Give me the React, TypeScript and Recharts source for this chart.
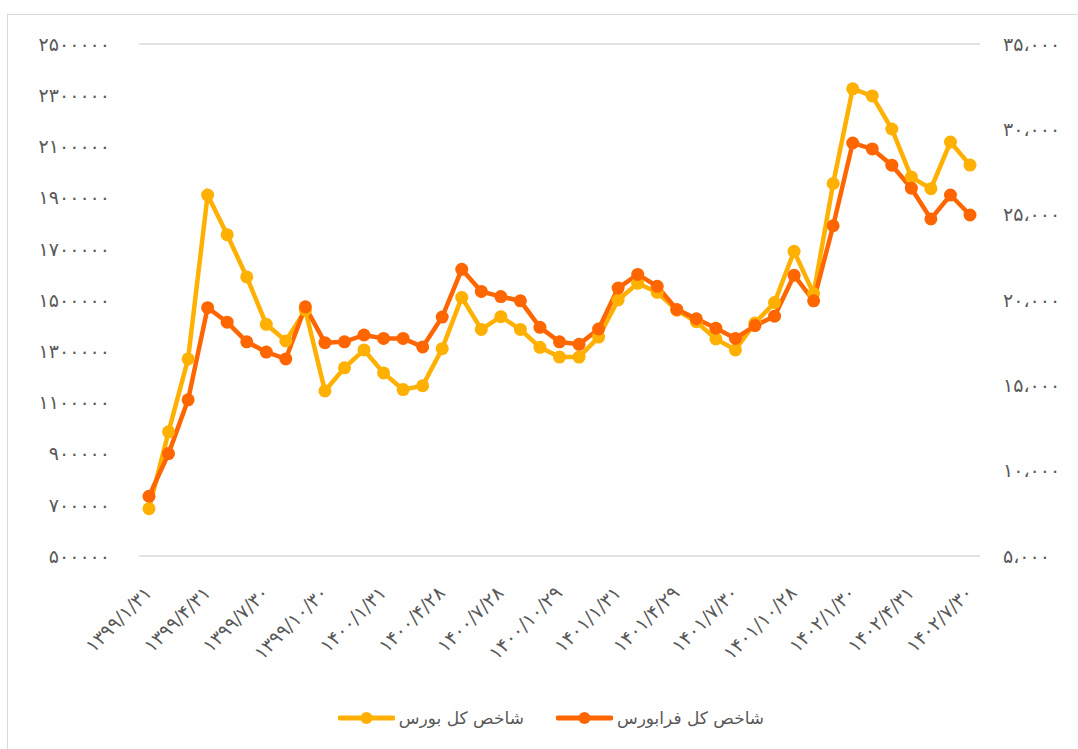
import { LineChart, Line, XAxis, YAxis, CartesianGrid, Legend } from 'recharts'

// month-end dates, 1399/1 .. 1402/7 (every third one is labelled)
const dates = [
  '1399/1/31', '1399/2/31', '1399/3/31', '1399/4/31', '1399/5/30', '1399/6/31',
  '1399/7/30', '1399/8/28', '1399/9/30', '1399/10/30', '1399/11/29', '1399/12/27',
  '1400/1/31', '1400/2/30', '1400/3/31', '1400/4/28', '1400/5/31', '1400/6/31',
  '1400/7/28', '1400/8/30', '1400/9/30', '1400/10/29', '1400/11/30', '1400/12/28',
  '1401/1/31', '1401/2/31', '1401/3/31', '1401/4/29', '1401/5/31', '1401/6/30',
  '1401/7/30', '1401/8/30', '1401/9/30', '1401/10/28', '1401/11/30', '1401/12/27',
  '1402/1/30', '1402/2/31', '1402/3/31', '1402/4/31', '1402/5/31', '1402/6/29',
  '1402/7/30',
]

// شاخص کل بورس (left axis)
const bourse = [
  685000, 985000, 1270000, 1910000, 1755000, 1590000, 1405000, 1340000, 1460000,
  1145000, 1235000, 1305000, 1215000, 1150000, 1165000, 1310000, 1510000, 1385000,
  1435000, 1385000, 1315000, 1277000, 1277000, 1355000, 1500000, 1565000, 1530000,
  1460000, 1415000, 1348000, 1305000, 1410000, 1490000, 1690000, 1525000, 1955000,
  2325000, 2297000, 2168000, 1980000, 1935000, 2117000, 2027000,
]

// شاخص کل فرابورس (right axis)
const faraBourse = [
  8500, 11000, 14150, 19550, 18700, 17550, 16950, 16550, 19600,
  17500, 17550, 17950, 17750, 17750, 17250, 19000, 21800, 20500,
  20200, 19950, 18400, 17550, 17400, 18300, 20700, 21500, 20800,
  19450, 18900, 18350, 17750, 18500, 19050, 21450, 19950, 24350,
  29200, 28850, 27900, 26550, 24750, 26150, 24980,
]

const leftTicks = [500000, 700000, 900000, 1100000, 1300000, 1500000, 1700000, 1900000, 2100000, 2300000, 2500000]
const rightTicks = [5000, 10000, 15000, 20000, 25000, 30000, 35000]

const seriesNames = ['شاخص کل بورس', 'شاخص کل فرابورس']
const colors = ['#FFB000', '#FF6600']

const data = dates.map((d, i) => ({ date: d, bourse: bourse[i], fara: faraBourse[i] }))

const faDigits = '۰۱۲۳۴۵۶۷۸۹'
const toFa = (s: string) => s.replace(/\d/g, (d) => faDigits[+d])
const withSep = (n: number) => String(n).replace(/\B(?=(\d{3})+(?!\d))/g, '،')

const FONT = '"DejaVu Sans", sans-serif'
const TEXT = '#595959'

const XTick = ({ x, y, payload }: any) => {
  const tx = x + 4
  const ty = y + 30
  return (
    <text x={tx} y={ty} textAnchor="end" fill={TEXT} fontSize={19} letterSpacing={1.3} fontFamily={FONT}
      transform={`rotate(-45, ${tx}, ${ty})`}>
      {toFa(payload.value)}
    </text>
  )
}

const LegendContent = () => (
  <div style={{ height: 50, display: 'flex', justifyContent: 'center', alignItems: 'flex-start', paddingTop: 8, paddingLeft: 24, boxSizing: 'border-box', fontFamily: FONT, fontSize: 17, color: TEXT }}>
    {seriesNames.map((name, i) => (
      <div key={name} style={{ display: 'flex', alignItems: 'center', marginLeft: i ? 32 : 0, height: 22 }}>
        <svg width={57} height={14}>
          <line x1={2} y1={7} x2={55} y2={7} stroke={colors[i]} strokeWidth={5} strokeLinecap="round" />
          <circle cx={28.5} cy={7} r={6} fill={colors[i]} />
        </svg>
        <span style={{ marginLeft: 4 }}>{name}</span>
      </div>
    ))}
  </div>
)

export default function App() {
  return (
    <div style={{ position: 'absolute', left: 0, top: 0, width: 1078, height: 749, background: '#fff' }}>
      <div style={{ position: 'absolute', left: 7, top: 14, width: 1100, height: 760, borderLeft: '1px solid #d9d9d9', borderTop: '1px solid #d9d9d9' }} />
      <LineChart width={1078} height={749} data={data} margin={{ top: 44, right: 0, bottom: 0, left: 0 }}>
        <CartesianGrid vertical={false} stroke="#d9d9d9" strokeWidth={1.3} />
        <XAxis dataKey="date" interval={2} tick={<XTick />} tickLine={false} axisLine={false}
          height={143} padding={{ left: 10, right: 10 }} />
        <YAxis yAxisId="left" domain={[500000, 2500000]} ticks={leftTicks} width={139}
          tickFormatter={(v: number) => toFa(String(v))} tickLine={false} axisLine={false}
          tickMargin={23} tick={{ fill: TEXT, fontSize: 19, letterSpacing: 2, fontFamily: FONT }} />
        <YAxis yAxisId="right" orientation="right" domain={[5000, 35000]} ticks={rightTicks} width={98}
          tickFormatter={(v: number) => toFa(withSep(v))} tickLine={false} axisLine={false}
          tickMargin={17} tick={{ fill: TEXT, fontSize: 19, letterSpacing: 1.5, fontFamily: FONT }} />
        <Legend verticalAlign="bottom" content={<LegendContent />} />
        <Line yAxisId="left" dataKey="bourse" name={seriesNames[0]} stroke={colors[0]} strokeWidth={4.5}
          dot={{ r: 6.5, fill: colors[0], stroke: colors[0], strokeWidth: 0 }} isAnimationActive={false} />
        <Line yAxisId="right" dataKey="fara" name={seriesNames[1]} stroke={colors[1]} strokeWidth={4.5}
          dot={{ r: 6.5, fill: colors[1], stroke: colors[1], strokeWidth: 0 }} isAnimationActive={false} />
      </LineChart>
    </div>
  )
}
